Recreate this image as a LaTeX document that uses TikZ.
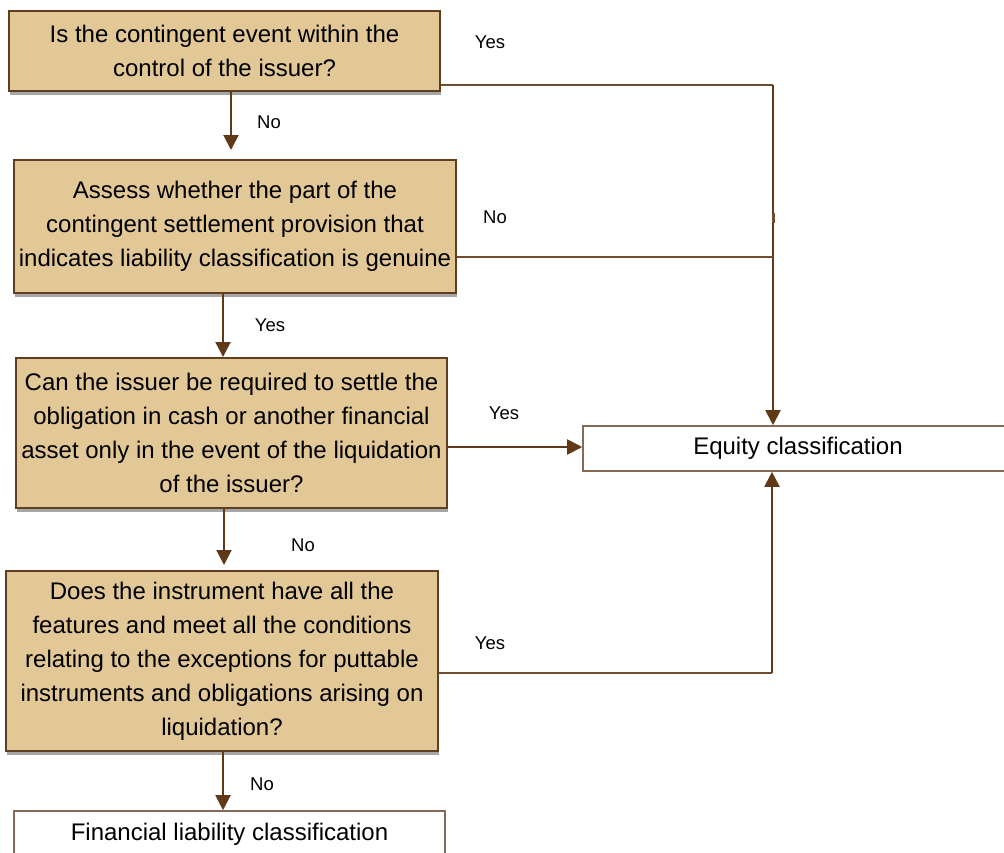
\documentclass[tikz,border=0pt]{standalone}
\usepackage{fontspec}
\setmainfont{Liberation Sans}
\usetikzlibrary{arrows.meta,shadows}
\definecolor{tanfill}{RGB}{226,200,151}
\definecolor{boxbrown}{RGB}{96,62,32}
\definecolor{arrbrown}{RGB}{96,58,24}
\definecolor{linebrown}{RGB}{112,76,46}
\definecolor{lightbrown}{RGB}{135,105,85}
\tikzset{
  qbox/.style={draw=boxbrown, line width=2pt, fill=tanfill, inner sep=0pt,
    align=center, font=\fontsize{24}{34}\selectfont,
    general shadow={fill=black!35, shadow yshift=-4pt, shadow xshift=1pt}},
  rbox/.style={draw=lightbrown, line width=1.6pt, fill=white, inner sep=0pt,
    align=center, font=\fontsize{24}{34}\selectfont},
  arr/.style={draw=arrbrown, line width=2pt, -{Triangle[width=15pt,length=15pt]}, color=arrbrown},
  conn/.style={draw=linebrown, line width=2pt},
  lbl/.style={font=\fontsize{18.5}{22}\selectfont, inner sep=0pt}
}
\begin{document}
\begin{tikzpicture}[x=1pt,y=-1pt]
\useasboundingbox (0,0) rectangle (1004,852);

\node[qbox, minimum width=431pt, minimum height=80pt] (b1) at (224.5,51)
  {Is the contingent event within the\\control of the issuer?};
\node[qbox, minimum width=442pt, minimum height=133pt] (b2) at (235,226.5)
  {Assess whether the part of the\\contingent settlement provision that\\indicates liability classification is genuine};
\node[qbox, minimum width=431pt, minimum height=150pt] (b3) at (231.5,433)
  {Can the issuer be required to settle the\\obligation in cash or another financial\\asset only in the event of the liquidation\\of the issuer?};
\node[qbox, minimum width=432pt, minimum height=180pt] (b4) at (222,661)
  {Does the instrument have all the\\features and meet all the conditions\\relating to the exceptions for puttable\\instruments and obligations arising on\\liquidation?};
\node[rbox, minimum width=431pt, minimum height=47pt] (b5) at (229.5,834.5)
  {\raisebox{2pt}{Financial liability classification}};
\node[rbox, minimum width=430pt, minimum height=45pt] (eq) at (798,448.5)
  {Equity classification};

% helper coordinates
\coordinate (t1) at (231,150);
\coordinate (x2) at (223,0);
\coordinate (t3) at (224,565);
\coordinate (c1) at (773,85);
\coordinate (c2) at (773,257);
\coordinate (c4) at (772,673);
\coordinate (k1) at (773,213);
\coordinate (k2) at (773,223);

% vertical flow
\draw[arr] (b1.south -| t1) -- (t1);
\draw[arr] (b2.south -| x2) -- (b3.north -| x2);
\draw[arr] (b3.south -| t3) -- (t3);
\draw[arr] (b4.south -| x2) -- (b5.north -| x2);

% to equity
\draw[conn] (b1.east |- c1) -- (c1);
\draw[arr] (c1) -- (c1 |- eq.north);
\draw[conn] (b2.east |- c2) -- (c2);
\draw[arr] (b3.east |- 0,447) -- (eq.west |- 0,447);
\draw[conn] (b4.east |- c4) -- (c4);
\draw[arr] (c4) -- (c4 |- eq.south);
\draw[draw=linebrown, line width=3pt] (k1) -- (k2);

% labels
\node[lbl] (l1) at (490,42) {Yes};
\node[lbl] (l2) at (269,122) {No};
\node[lbl] (l3) at (495,217) {No};
\node[lbl] (l4) at (270,325) {Yes};
\node[lbl] (l5) at (504,413) {Yes};
\node[lbl] (l6) at (303,545) {No};
\node[lbl] (l7) at (490,643) {Yes};
\node[lbl] (l8) at (262,784) {No};
\end{tikzpicture}
\end{document}
